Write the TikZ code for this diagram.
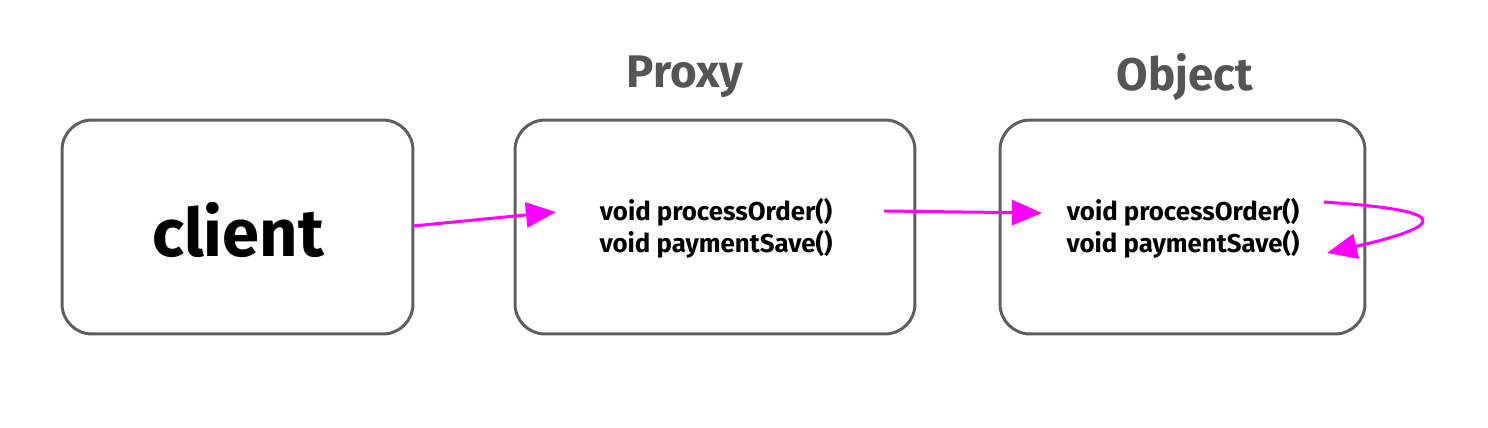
\documentclass[tikz,border=0pt]{standalone}
\usepackage{fontspec}
\setmainfont{Fira Sans}
\usetikzlibrary{arrows.meta}
\definecolor{boxgray}{HTML}{5F5F5F}
\definecolor{titlegray}{HTML}{555555}
\definecolor{mag}{HTML}{FF00FF}
\begin{document}
\begin{tikzpicture}[x=0.02cm,y=-0.02cm,
  box/.style={draw=boxgray,line width=1.7pt,rounded corners=0.6cm,minimum height=4.28cm,inner sep=0pt},
  ttl/.style={text=titlegray,font=\bfseries\fontsize{26}{30}\selectfont},
  meth/.style={font=\bfseries\fontsize{14.7}{18}\selectfont,align=center},
  conn/.style={draw=mag,line width=1.7pt,-{Triangle[length=0.6cm,width=0.5cm]}}]
\useasboundingbox (0,0) rectangle (1488,428);
\node[box,minimum width=7.02cm] (client) at (237.5,227) {};
\node[box,minimum width=8.0cm] (proxy) at (715,227) {};
\node[box,minimum width=7.3cm] (object) at (1182.5,227) {};
\node[font=\bfseries\fontsize{38}{40}\selectfont] (clienttxt) at (238,230) {client};
\node[ttl] (proxyttl) at (685,77) {Proxy};
\node[ttl] (objectttl) at (1185,77) {Object};
\node[meth] (pm) at (716,228) {void processOrder()\\void paymentSave()};
\node[meth] (om) at (1183,228) {void processOrder()\\void paymentSave()};
\coordinate (a1s) at (413,226);
\coordinate (a1e) at (556,212);
\coordinate (a2s) at (884,211);
\coordinate (a2e) at (1042,213);
\coordinate (a3s) at (1324,202);
\coordinate (a3e) at (1327,253);
\draw[conn] (a1s) -- (a1e);
\draw[conn] (a2s) -- (a2e);
\draw[conn] (a3s) .. controls (1410,208) and (1480,218) .. (a3e);
\end{tikzpicture}
\end{document}
